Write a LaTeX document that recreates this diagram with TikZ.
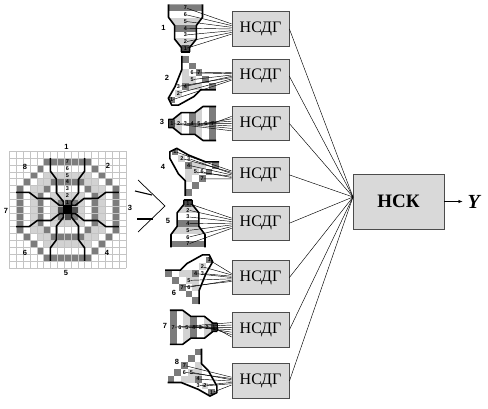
\documentclass[tikz,border=0pt]{standalone}
\usepackage{fontspec}
\setmainfont{Liberation Serif}
\newfontfamily\labfont{Liberation Sans}
\usetikzlibrary{arrows.meta,positioning}
\definecolor{dkcell}{HTML}{7C7C7C}
\definecolor{ltcell}{HTML}{D2D2D2}
\definecolor{boxgray}{HTML}{D9D9D9}
\definecolor{gridgray}{HTML}{C4C4C4}

% cells of the straight and of the diagonal sector, centre of the mask at (0,0)
\newcommand{\cellsS}{%
  \foreach \x/\y in {-2/7,-1/7,0/7,1/7,2/7,-1/4,0/4,1/4,-2/4,2/4,1/1,-1/1}
    \fill[dkcell] (\x-.5,\y-.5) rectangle +(1,1);
  \foreach \x/\y in {-2/5,-1/5,0/5,1/5,2/5,-1/2,0/2,1/2}
    \fill[ltcell] (\x-.5,\y-.5) rectangle +(1,1);
  \fill[black!70] (-.5,.5) rectangle (.5,1.5);
}
\newcommand{\cellsD}{%
  \foreach \x/\y in {3/7,4/6,5/5,6/4,7/3,3/3,1/1}
    \fill[dkcell] (\x-.5,\y-.5) rectangle +(1,1);
  \foreach \x/\y in {3/4,4/3,4/4,3/5,5/3,2/2}
    \fill[ltcell] (\x-.5,\y-.5) rectangle +(1,1);
}
\newcommand{\edgesS}{%
  \draw[edge] (-2.5,7.5) -- (-2.5,5.6) -- (-1.6,4.4) -- (-1.6,2.4) -- (-.6,1.15) -- (-.6,.5);
  \draw[edge] (2.5,7.5) -- (2.5,5.6) -- (1.6,4.4) -- (1.6,2.4) -- (.6,1.15) -- (.6,.5);
}
% one straight sector: name, x, y, turn
\newcommand{\sectS}[4]{%
  \begin{scope}[shift={(#2,#3)},rotate=#4,x=6.8pt,y=6.8pt]
    \begin{scope}
      \clip (-2.5,7.5) -- (-2.5,5.6) -- (-1.6,4.4) -- (-1.6,2.4) -- (-.6,1.15) -- (-.6,.5)
        -- (.6,.5) -- (.6,1.15) -- (1.6,2.4) -- (1.6,4.4) -- (2.5,5.6) -- (2.5,7.5) -- cycle;
      \cellsS
    \end{scope}
    \edgesS
    \draw[edge] (-.6,.5) -- (.6,.5);
    \foreach \k in {1,...,7}
      \node[numlab] (s#1k\k) at (0,\k) {\k};
  \end{scope}
}
% one diagonal sector: name, x, y, turn
\newcommand{\sectD}[4]{%
  \begin{scope}[shift={(#2,#3)},rotate=#4,x=6.8pt,y=6.8pt]
    \begin{scope}
      \clip (2.5,7.5) -- (2.5,5.5) -- (1.5,3) -- (.5,1.25) -- (1,.25) -- (2,.25) -- (4.25,1.5)
        -- (5.25,2.5) -- (7.5,2.5) -- (7.5,3.5) -- (3.5,7.5) -- cycle;
      \cellsD
    \end{scope}
    \foreach \x/\y in {3/7,4/6,5/5,6/4,7/3}
      \fill[dkcell] (\x-.5,\y-.5) rectangle +(1,1);
    \draw[edge] (2.5,7.5) -- (2.5,5.5) -- (1.5,3) -- (.5,1.25) -- (1,.25) -- (2,.25) -- (4.25,1.5)
      -- (5.25,2.5) -- (7.5,2.5);
    \foreach \k/\x/\y in {1/1/1,2/2/2,3/2/3,4/3/3,5/4/4,6/4/5,7/5/5}
      \node[numlab] (s#1k\k) at (\x,\y) {\k};
  \end{scope}
}

\begin{document}
\begin{tikzpicture}[x=1pt,y=-1pt,
  edge/.style={line width=1.6pt, line join=round},
  numlab/.style={font=\labfont\bfseries\fontsize{5.5}{6}\selectfont, inner sep=0pt},
  seclab/.style={font=\labfont\bfseries\fontsize{7.5}{8}\selectfont, inner sep=0pt},
  ndg/.style={draw=black!70, line width=.8pt, fill=boxgray, minimum width=57pt, minimum height=34.5pt,
    inner sep=0pt, font=\fontsize{16}{18}\selectfont},
  nskbox/.style={draw=black!70, line width=.8pt, fill=boxgray, minimum width=91pt, minimum height=55pt,
    inner sep=0pt, font=\bfseries\fontsize{19}{20}\selectfont},
  fan/.style={line width=.45pt},
  >={Stealth[length=1.5mm]}]
\useasboundingbox (0,0) rectangle (488,409);

% mask
\begin{scope}[shift={(67.5,209.5)},x=6.85pt,y=6.85pt]
  \foreach \a in {0,90,180,270} {
    \begin{scope}[rotate=\a]
      \cellsS
      \cellsD
      \foreach \x/\y in {2/4,4/2}
        \fill[dkcell] (\x-.5,\y-.5) rectangle +(1,1);
    \end{scope}
  }
  \draw[gridgray, line width=.35pt, shift={(.5,.5)}] (-9,-9) grid[step=1] (8,8);
  \fill[black] (-.7,-.7) rectangle (.7,.7);
  \foreach \a in {0,90,180,270} {
    \begin{scope}[rotate=\a]
      \edgesS
    \end{scope}
  }
  \foreach \k in {1,...,7}
    \node[numlab] (mk\k) at (0,\k) {\k};
\end{scope}
\node[seclab] (m1) at (66.5,147) {1};
\node[seclab] (m2) at (108,166) {2};
\node[seclab] (m3) at (130,208) {3};
\node[seclab] (m4) at (107,253) {4};
\node[seclab] (m5) at (66,273) {5};
\node[seclab] (m6) at (25,253) {6};
\node[seclab] (m7) at (6,211) {7};
\node[seclab] (m8) at (25,167) {8};

% fork
\coordinate (tip) at (165,206);
\draw[line width=.7pt] (138,180) -- (tip) -- (138,232);
\draw[line width=1.1pt] (135,191) -- (152,195);
\draw[line width=1.1pt] (137,219) -- (153,219);

% boxes
\node[ndg] (ndg1) at (260.5,29) {НСДГ};
\node[ndg, below=12pt of ndg1] (ndg2) {НСДГ};
\node[ndg, below=12pt of ndg2] (ndg3) {НСДГ};
\node[ndg, below=16pt of ndg3] (ndg4) {НСДГ};
\node[ndg, below=13pt of ndg4] (ndg5) {НСДГ};
\node[ndg, below=19pt of ndg5] (ndg6) {НСДГ};
\node[ndg, below=17pt of ndg6] (ndg7) {НСДГ};
\node[ndg, below=16pt of ndg7] (ndg8) {НСДГ};
\node[nskbox] (nsk) at (398.5,201.5) {НСК};
\node[right=23pt of nsk, inner sep=0pt, font=\bfseries\itshape\fontsize{20}{20}\selectfont] (out) {Y};
\coordinate (fanin) at (353,197);
\foreach \i in {1,...,8}
  \draw[fan] (ndg\i.east) -- (fanin);
\draw[->, line width=.6pt, shorten >=5pt] (nsk) -- (out);

% sectors
\sectS{1}{185.5}{55.4}{0}
\sectD{2}{164.9}{106.8}{0}
\sectS{3}{165}{123.5}{-90}
\sectD{4}{168.2}{144.9}{-90}
\sectS{5}{188}{196.5}{-180}
\sectD{6}{216.1}{253.2}{-180}
\sectS{7}{220.8}{327.3}{-270}
\sectD{8}{218.5}{399.5}{-270}

\foreach \k in {1,...,7} {
  \draw[fan] (s1k\k) -- ([yshift={(\k-4)*1.7pt}]ndg1.west);
  \draw[fan] (s2k\k) -- ([yshift={(\k-4)*1.3pt}]ndg2.west);
  \draw[fan] (s3k\k) -- ([yshift={(\k-4)*2.4pt}]ndg3.west);
  \draw[fan] (s4k\k) -- ([yshift={(4-\k)*1.3pt}]ndg4.west);
  \draw[fan] (s5k\k) -- ([yshift={(4-\k)*1.7pt}]ndg5.west);
  \draw[fan] (s6k\k) -- ([yshift={(4-\k)*1.3pt}]ndg6.west);
  \draw[fan] (s7k\k) -- ([yshift={(\k-4)*2.4pt}]ndg7.west);
  \draw[fan] (s8k\k) -- ([yshift={(\k-4)*1.3pt}]ndg8.west);
}

% sector numbers
\node[seclab] (n1) at (163.5,28) {1};
\node[seclab] (n2) at (167,78) {2};
\node[seclab] (n3) at (162,122) {3};
\node[seclab] (n4) at (163,167) {4};
\node[seclab] (n5) at (168,221) {5};
\node[seclab] (n6) at (174,293) {6};
\node[seclab] (n7) at (165,326) {7};
\node[seclab] (n8) at (177,362) {8};
\end{tikzpicture}
\end{document}
